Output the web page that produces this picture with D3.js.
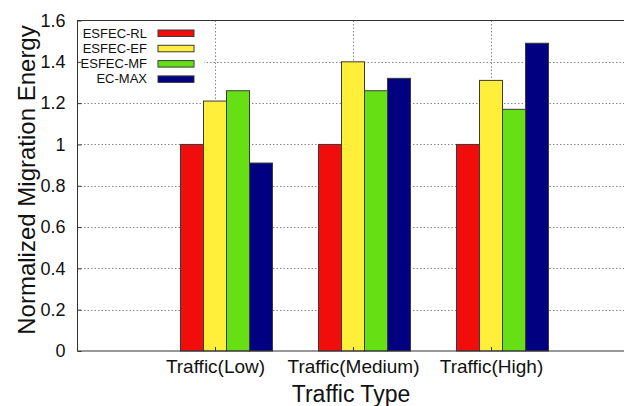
<!DOCTYPE html>
<html>
<head>
<meta charset="utf-8">
<script src="https://cdn.jsdelivr.net/npm/d3@7"></script>
<style>
  html, body { margin: 0; padding: 0; background: #fff; }
  svg { display: block; font-family: "Liberation Sans", Arial, sans-serif; }
</style>
</head>
<body>
<svg id="chart" width="624" height="406"></svg>
<script>
// Traffic classes on the x axis
const categories = ["Traffic(Low)", "Traffic(Medium)", "Traffic(High)"];
// Migration schemes (one bar per scheme in each cluster)
const seriesNames = ["ESFEC-RL", "ESFEC-EF", "ESFEC-MF", "EC-MAX"];
const seriesColors = ["#f20d0d", "#ffef3a", "#66e014", "#000080"];
// Normalized migration energy, one array per scheme
const esfecRL = [1.00, 1.00, 1.00];
const esfecEF = [1.21, 1.40, 1.31];
const esfecMF = [1.26, 1.26, 1.17];
const ecMAX   = [0.91, 1.32, 1.49];
const yTicks = [0, 0.2, 0.4, 0.6, 0.8, 1, 1.2, 1.4, 1.6];

const seriesValues = [esfecRL, esfecEF, esfecMF, ecMAX];

const svg = d3.select("#chart");
const plotLeft = 77, plotTop = 20.5, plotBottom = 351, plotRight = 629;

// x in cluster units: tick at 0,1,2; range -1..3
const x = d3.scaleLinear().domain([-1, 3]).range([plotLeft, plotRight]);
const y = d3.scaleLinear().domain([0, 1.6]).range([plotBottom, plotTop]);

const nSeries = seriesNames.length, gap = 2;
const barW = 1 / (nSeries + gap);
// the tick sits on the middle of the second bar of each cluster
const barX = (i, j) => i - 1.5 * barW + j * barW;

// grid (dotted)
const grid = svg.append("g").attr("stroke", "#888").attr("stroke-width", 1)
  .attr("stroke-dasharray", "1.5,2");
yTicks.filter(t => t > 0 && t < 1.6).forEach(t => {
  grid.append("line").attr("x1", plotLeft).attr("x2", plotRight)
    .attr("y1", Math.round(y(t)) + 0.5).attr("y2", Math.round(y(t)) + 0.5);
});
categories.forEach((c, i) => {
  grid.append("line").attr("x1", Math.round(x(i)) + 0.5).attr("x2", Math.round(x(i)) + 0.5)
    .attr("y1", plotTop).attr("y2", plotBottom);
});

// bars
seriesValues.forEach((vals, j) => {
  svg.append("g").selectAll("rect").data(vals).join("rect")
    .attr("x", (d, i) => x(barX(i, j)))
    .attr("width", x(barW) - x(0))
    .attr("y", d => y(d))
    .attr("height", d => y(0) - y(d))
    .attr("fill", seriesColors[j])
    .attr("stroke", "#3a3a3a")
    .attr("stroke-width", 1);
});

// legend (opaque box over the grid)
const legend = svg.append("g");
legend.append("rect").attr("x", plotLeft + 1).attr("y", plotTop + 1)
  .attr("width", 126).attr("height", 68).attr("fill", "#fff");
seriesNames.forEach((name, j) => {
  const cy = 33 + j * 15.3;
  legend.append("text").attr("x", 147).attr("y", cy + 4.5)
    .attr("text-anchor", "end").attr("font-size", 13).attr("fill", "#111").text(name);
  legend.append("rect").attr("x", 158).attr("y", cy - 3)
    .attr("width", 36).attr("height", 6.5)
    .attr("fill", seriesColors[j]).attr("stroke", "#3a3a3a").attr("stroke-width", 1);
});

// frame
svg.append("rect").attr("x", plotLeft + 0.5).attr("y", plotTop).attr("width", plotRight - plotLeft)
  .attr("height", plotBottom - plotTop).attr("fill", "none").attr("stroke", "#333").attr("stroke-width", 1);

// y axis ticks and labels
const yAxis = d3.axisLeft(y).tickValues(yTicks).tickSize(-4).tickPadding(12)
  .tickFormat(d => d3.format("")(+d.toFixed(1)));
const gy = svg.append("g").attr("transform", `translate(${plotLeft + 0.5},0)`).call(yAxis);
gy.select(".domain").remove();
gy.selectAll("line").attr("stroke", "#333");
gy.selectAll("text").attr("font-size", 18).attr("fill", "#111")
  .attr("font-family", "Liberation Sans, Arial, sans-serif");

// x axis labels
const xAxis = d3.axisBottom(x).tickValues([0, 1, 2]).tickSize(-4).tickPadding(9)
  .tickFormat((d, i) => categories[i]);
const gx = svg.append("g").attr("transform", `translate(0,${plotBottom})`).call(xAxis);
gx.select(".domain").remove();
gx.selectAll("line").attr("stroke", "#333");
gx.selectAll("text").attr("font-size", 19).attr("fill", "#111")
  .attr("font-family", "Liberation Sans, Arial, sans-serif");

// axis titles
svg.append("text").attr("x", 351).attr("y", 402).attr("text-anchor", "middle")
  .attr("font-size", 23).attr("fill", "#111").text("Traffic Type");
svg.append("text").attr("transform", "translate(35,180) rotate(-90)")
  .attr("text-anchor", "middle").attr("font-size", 24).attr("fill", "#111")
  .text("Normalized Migration Energy");
</script>
</body>
</html>
